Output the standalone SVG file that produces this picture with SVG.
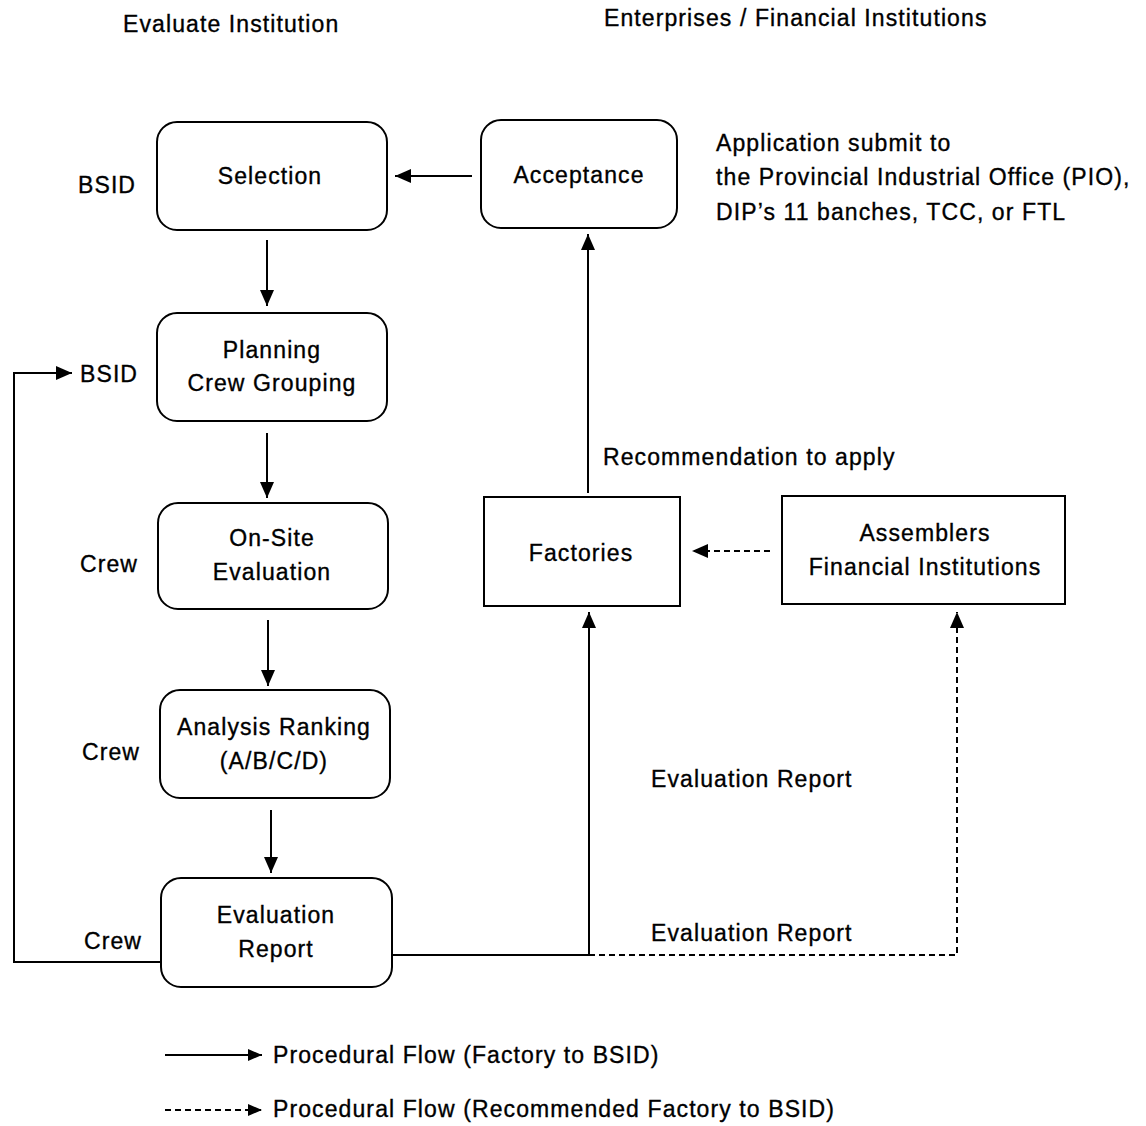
<svg xmlns="http://www.w3.org/2000/svg" width="1146" height="1126" viewBox="0 0 1146 1126">
<style>
  text { font-family: "Liberation Sans", Arial, sans-serif; font-size: 23px; fill: #000; stroke: #000; stroke-width: 0.35px; letter-spacing: 1.1px; }
  .c { text-anchor: middle; }
  .box { fill: none; stroke: #000; stroke-width: 2; }
  .ln { fill: none; stroke: #000; stroke-width: 2; }
  .dash { stroke-dasharray: 6 4; }
</style>
<defs>
  <marker id="ah" viewBox="0 0 16 14" refX="16" refY="7" markerWidth="16" markerHeight="14" markerUnits="userSpaceOnUse" orient="auto">
    <path d="M0,0 L16,7 L0,14 Z" fill="#000"/>
  </marker>
  <marker id="ahs" viewBox="0 0 14 12" refX="14" refY="6" markerWidth="14" markerHeight="12" markerUnits="userSpaceOnUse" orient="auto">
    <path d="M0,0 L14,6 L0,12 Z" fill="#000"/>
  </marker>
</defs>
<rect width="1146" height="1126" fill="#fff"/>

<g id="headers">
  <text x="123" y="32">Evaluate Institution</text>
  <text x="604" y="26">Enterprises / Financial Institutions</text>
</g>

<g id="role-labels">
  <text x="78" y="193">BSID</text>
  <text x="80" y="382">BSID</text>
  <text x="80" y="572">Crew</text>
  <text x="82" y="760">Crew</text>
  <text x="84" y="949">Crew</text>
</g>

<g id="selection">
  <rect class="box" x="157" y="122" width="230" height="108" rx="20"/>
  <text class="c" x="270" y="184">Selection</text>
</g>
<g id="planning">
  <rect class="box" x="157" y="313" width="230" height="108" rx="20"/>
  <text class="c" x="272" y="358">Planning</text>
  <text class="c" x="272" y="391">Crew Grouping</text>
</g>
<g id="onsite">
  <rect class="box" x="158" y="503" width="230" height="106" rx="20"/>
  <text class="c" x="272" y="546">On-Site</text>
  <text class="c" x="272" y="580">Evaluation</text>
</g>
<g id="analysis">
  <rect class="box" x="160" y="690" width="230" height="108" rx="20"/>
  <text class="c" x="274" y="735">Analysis Ranking</text>
  <text class="c" x="274" y="769">(A/B/C/D)</text>
</g>
<g id="evalreport">
  <rect class="box" x="161" y="878" width="231" height="109" rx="20"/>
  <text class="c" x="276" y="923">Evaluation</text>
  <text class="c" x="276" y="957">Report</text>
</g>
<g id="acceptance">
  <rect class="box" x="481" y="120" width="196" height="108" rx="20"/>
  <text class="c" x="579" y="183">Acceptance</text>
</g>
<g id="application-note">
  <text x="716" y="151">Application submit to</text>
  <text x="716" y="185">the Provincial Industrial Office (PIO),</text>
  <text x="716" y="220">DIP’s 11 banches, TCC, or FTL</text>
</g>
<g id="factories">
  <rect class="box" x="484" y="497" width="196" height="109"/>
  <text class="c" x="581" y="561">Factories</text>
</g>
<g id="assemblers">
  <rect class="box" x="782" y="496" width="283" height="108"/>
  <text class="c" x="925" y="541">Assemblers</text>
  <text class="c" x="925" y="575">Financial Institutions</text>
</g>

<g id="connectors">
  <line class="ln" x1="472" y1="176" x2="395" y2="176" marker-end="url(#ah)"/>
  <line class="ln" x1="267" y1="240" x2="267" y2="306" marker-end="url(#ah)"/>
  <line class="ln" x1="267" y1="433" x2="267" y2="498" marker-end="url(#ah)"/>
  <line class="ln" x1="268" y1="620" x2="268" y2="686" marker-end="url(#ah)"/>
  <line class="ln" x1="271" y1="810" x2="271" y2="873" marker-end="url(#ah)"/>
  <polyline class="ln" points="161,962 14,962 14,373 72,373" marker-end="url(#ah)"/>
  <polyline class="ln" points="392,955 589,955 589,612" marker-end="url(#ah)"/>
  <polyline class="ln dash" points="589,955 957,955 957,612" marker-end="url(#ah)"/>
  <line class="ln" x1="588" y1="493" x2="588" y2="234" marker-end="url(#ah)"/>
  <line class="ln dash" x1="770" y1="551" x2="692" y2="551" marker-end="url(#ah)"/>
  <text x="603" y="465">Recommendation to apply</text>
  <text x="651" y="787">Evaluation Report</text>
  <text x="651" y="941">Evaluation Report</text>
</g>

<g id="legend">
  <line class="ln" x1="165" y1="1055" x2="262" y2="1055" marker-end="url(#ahs)"/>
  <text x="273" y="1063">Procedural Flow (Factory to BSID)</text>
  <line class="ln dash" x1="165" y1="1110" x2="262" y2="1110" marker-end="url(#ahs)"/>
  <text x="273" y="1117">Procedural Flow (Recommended Factory to BSID)</text>
</g>
</svg>
